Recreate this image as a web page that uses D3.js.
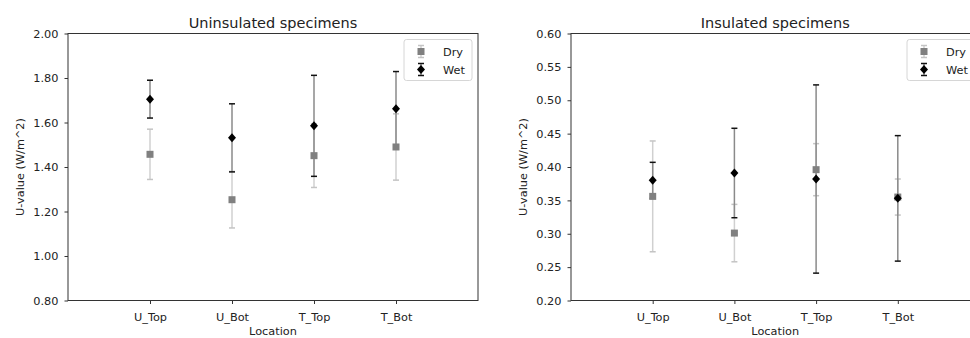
<!DOCTYPE html>
<html>
<head>
<meta charset="utf-8">
<script src="https://cdn.jsdelivr.net/npm/d3@7"></script>
<style>
  body { margin: 0; background: #fff; }
  svg { font-family: "DejaVu Sans", sans-serif; }
</style>
</head>
<body>
<svg id="chart" width="970" height="338"></svg>
<script>
// categories along x
const locations = ["U_Top", "U_Bot", "T_Top", "T_Bot"];

// uninsulated specimens
const uninsDry = [1.457, 1.253, 1.451, 1.490];
const uninsDryErr = [0.113, 0.127, 0.143, 0.149];
const uninsWet = [1.705, 1.531, 1.585, 1.662];
const uninsWetErr = [0.085, 0.153, 0.227, 0.167];
const uninsTicks = [0.80, 1.00, 1.20, 1.40, 1.60, 1.80, 2.00];

// insulated specimens
const insDry = [0.356, 0.301, 0.396, 0.355];
const insDryErr = [0.083, 0.043, 0.039, 0.027];
const insWet = [0.380, 0.391, 0.382, 0.353];
const insWetErr = [0.027, 0.067, 0.141, 0.094];
const insTicks = [0.20, 0.25, 0.30, 0.35, 0.40, 0.45, 0.50, 0.55, 0.60];

const svg = d3.select("#chart");
const fs = 11.3; // tick / label font size

function drawPanel(opts) {
  const g = svg.append("g");
  const x = d3.scaleLinear().domain([-1, 4]).range([opts.x0, opts.x1]);
  const y = d3.scaleLinear().domain(opts.yDomain).range([opts.y1, opts.y0]);

  // frame
  g.append("rect")
    .attr("x", opts.x0).attr("y", opts.y0)
    .attr("width", opts.x1 - opts.x0).attr("height", opts.y1 - opts.y0)
    .attr("fill", "none").attr("stroke", "#333").attr("stroke-width", 1);

  // y axis
  const ya = g.append("g")
    .attr("transform", `translate(${opts.x0},0)`)
    .call(d3.axisLeft(y).tickValues(opts.ticks).tickFormat(d3.format(".2f")).tickSize(3.5).tickPadding(6));
  ya.select(".domain").remove();
  ya.selectAll("line").attr("stroke", "#333");
  ya.selectAll("text").attr("font-size", fs).attr("fill", "#222").attr("font-family", "DejaVu Sans");

  // x axis
  const xa = g.append("g")
    .attr("transform", `translate(0,${opts.y1})`)
    .call(d3.axisBottom(x).tickValues(d3.range(locations.length)).tickFormat(i => locations[i]).tickSize(3.5).tickPadding(8.5));
  xa.select(".domain").remove();
  xa.selectAll("line").attr("stroke", "#333");
  xa.selectAll("text").attr("font-size", fs).attr("fill", "#222").attr("font-family", "DejaVu Sans");

  // titles
  g.append("text").attr("x", (opts.x0 + opts.x1) / 2).attr("y", 27.5)
    .attr("text-anchor", "middle").attr("font-size", 14.5).attr("fill", "#222").text(opts.title);
  g.append("text").attr("x", (opts.x0 + opts.x1) / 2).attr("y", opts.y1 + 34.5)
    .attr("text-anchor", "middle").attr("font-size", fs).attr("fill", "#222").text("Location");
  g.append("text")
    .attr("transform", `translate(${opts.x0 - 44},${(opts.y0 + opts.y1) / 2}) rotate(-90)`)
    .attr("text-anchor", "middle").attr("font-size", fs).attr("fill", "#222").text("U-value (W/m^2)");

  const series = [
    { vals: opts.dry, err: opts.dryErr, line: "#d0d0d0", cap: "#c4c4c4", marker: "square" },
    { vals: opts.wet, err: opts.wetErr, line: "#8a8a8a", cap: "#111", marker: "diamond" }
  ];

  // error bars first, markers on top
  const barG = g.append("g"), markG = g.append("g");
  series.forEach(s => {
    s.vals.forEach((v, i) => {
      const cx = x(i);
      barG.append("line").attr("x1", cx).attr("x2", cx)
        .attr("y1", y(v - s.err[i])).attr("y2", y(v + s.err[i]))
        .attr("stroke", s.line).attr("stroke-width", 1.5);
      [v - s.err[i], v + s.err[i]].forEach(e => {
        barG.append("line").attr("x1", cx - 3).attr("x2", cx + 3)
          .attr("y1", y(e)).attr("y2", y(e))
          .attr("stroke", s.cap).attr("stroke-width", 1.5);
      });
    });
    s.vals.forEach((v, i) => drawMarker(markG, s.marker, x(i), y(v)));
  });

  // legend
  const lx = opts.legendX, ly = opts.y0 + 6;
  const lg = g.append("g");
  lg.append("rect").attr("x", lx).attr("y", ly).attr("width", 68).attr("height", 41)
    .attr("rx", 2.5).attr("fill", "#fff").attr("fill-opacity", 0.8)
    .attr("stroke", "#d6d6d6").attr("stroke-width", 1);
  [["Dry", series[0]], ["Wet", series[1]]].forEach(([name, s], k) => {
    const my = ly + 12 + k * 18, mx = lx + 17;
    lg.append("line").attr("x1", mx).attr("x2", mx).attr("y1", my - 6).attr("y2", my + 6)
      .attr("stroke", s.line).attr("stroke-width", 1.5);
    [my - 6, my + 6].forEach(e => lg.append("line").attr("x1", mx - 3).attr("x2", mx + 3)
      .attr("y1", e).attr("y2", e).attr("stroke", s.cap).attr("stroke-width", 1.5));
    drawMarker(lg, s.marker, mx, my);
    lg.append("text").attr("x", lx + 39).attr("y", my + 4).attr("font-size", fs)
      .attr("fill", "#222").text(name);
  });
}

function drawMarker(sel, kind, cx, cy) {
  if (kind === "square") {
    sel.append("rect").attr("x", cx - 3.5).attr("y", cy - 3.5).attr("width", 7).attr("height", 7)
      .attr("fill", "#808080");
  } else {
    sel.append("path")
      .attr("d", `M${cx},${cy - 4.5}L${cx + 4},${cy}L${cx},${cy + 4.5}L${cx - 4},${cy}Z`)
      .attr("fill", "#000");
  }
}

drawPanel({
  title: "Uninsulated specimens",
  x0: 68, x1: 478, y0: 33.5, y1: 300.5,
  yDomain: [0.8, 2.0], ticks: uninsTicks,
  dry: uninsDry, dryErr: uninsDryErr, wet: uninsWet, wetErr: uninsWetErr,
  legendX: 404
});

drawPanel({
  title: "Insulated specimens",
  x0: 571, x1: 979.5, y0: 33.5, y1: 300.5,
  yDomain: [0.2, 0.6], ticks: insTicks,
  dry: insDry, dryErr: insDryErr, wet: insWet, wetErr: insWetErr,
  legendX: 907
});
</script>
</body>
</html>
